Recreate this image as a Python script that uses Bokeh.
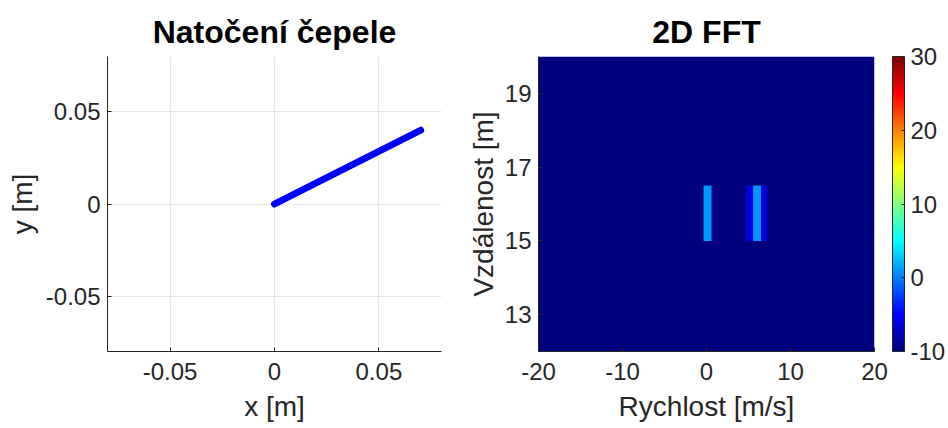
from bokeh.plotting import figure
from bokeh.layouts import row
from bokeh.models import (ColumnDataSource, LinearColorMapper, ColorBar, FixedTicker, Range1d)
from bokeh.embed import file_html
from bokeh.resources import INLINE

# ---------------- data ----------------
blade_x = [0.0, 0.07]
blade_y = [0.0, 0.04]
left_ticks = [-0.05, 0, 0.05]
left_tick_labels = ["-0.05", "0", "0.05"]
left_lim = [-0.08, 0.08]

vel_lim = [-20, 20]
dist_lim = [12, 20]
floor_db = -10
peak_vel_left = [-0.35, 4.7, 5.55, 6.5]
peak_vel_right = [0.6, 5.55, 6.5, 7.2]
peak_dist_lo = [15.0, 15.0, 15.0, 15.0]
peak_dist_hi = [16.5, 16.5, 16.5, 16.5]
peak_db = [1.0, -6.0, 1.0, -6.0]
vel_ticks = [-20, -10, 0, 10, 20]
vel_tick_labels = ["-20", "-10", "0", "10", "20"]
dist_ticks = [13, 15, 17, 19]
cbar_lim = [-10, 30]
cbar_ticks = [-10, 0, 10, 20, 30]
cbar_tick_labels = ["-10", "0", "10", "20", "30"]

FONT = "Liberation Sans"
TXT = "#262626"


def jet(n=256):
    cols = []
    for i in range(n):
        t = i / (n - 1)
        r = min(max(min(4 * t - 1.5, -4 * t + 4.5), 0), 1)
        g = min(max(min(4 * t - 0.5, -4 * t + 3.5), 0), 1)
        b = min(max(min(4 * t + 0.5, -4 * t + 2.5), 0), 1)
        cols.append("#%02x%02x%02x" % (int(r * 255), int(g * 255), int(b * 255)))
    return cols


def style(p, ylabel_standoff):
    for ax in (p.xaxis, p.yaxis):
        ax.major_label_text_font = FONT
        ax.major_label_text_font_size = "24px"
        ax.major_label_text_color = TXT
        ax.axis_label_text_font = FONT
        ax.axis_label_text_font_size = "28px"
        ax.axis_label_text_font_style = "normal"
        ax.axis_label_text_color = TXT
        ax.axis_line_color = TXT
        ax.major_tick_line_color = TXT
        ax.major_tick_in = 4
        ax.major_tick_out = 0
        ax.minor_tick_line_color = None
    p.xaxis.major_label_standoff = 11
    p.yaxis.major_label_standoff = 7
    p.xaxis.axis_label_standoff = 8
    p.yaxis.axis_label_standoff = ylabel_standoff
    p.title.text_font = FONT
    p.title.text_font_size = "32px"
    p.title.text_font_style = "bold"
    p.title.align = "center"
    p.title.text_color = "black"
    p.title.standoff = 13
    p.outline_line_color = None


# ---------------- left plot ----------------
p1 = figure(width=460, height=428, output_backend="svg", toolbar_location=None,
            title="Natočení čepele",
            x_range=Range1d(*left_lim), y_range=Range1d(*left_lim),
            min_border_left=107, min_border_right=19, min_border_top=56, min_border_bottom=77)
p1.line(blade_x, blade_y, line_width=7, line_color="#0000ff", line_cap="round")
p1.xaxis.ticker = FixedTicker(ticks=left_ticks)
p1.yaxis.ticker = FixedTicker(ticks=left_ticks)
p1.xaxis.major_label_overrides = dict(zip(left_ticks, left_tick_labels))
p1.yaxis.major_label_overrides = dict(zip(left_ticks, left_tick_labels))
p1.xaxis.axis_label = "x [m]"
p1.yaxis.axis_label = "y [m]"
p1.xgrid.grid_line_color = "#e6e6e6"
p1.ygrid.grid_line_color = "#e6e6e6"
style(p1, 5)

# ---------------- right plot ----------------
mapper = LinearColorMapper(palette=jet(256), low=cbar_lim[0], high=cbar_lim[1])
p2 = figure(width=488, height=428, output_backend="svg", toolbar_location=None,
            title="2D FFT",
            x_range=Range1d(*vel_lim), y_range=Range1d(*dist_lim),
            min_border_left=78, min_border_right=72, min_border_top=56, min_border_bottom=77)
bg = ColumnDataSource(dict(left=[vel_lim[0]], right=[vel_lim[1]], bottom=[dist_lim[0]],
                           top=[dist_lim[1]], db=[floor_db]))
p2.quad(left="left", right="right", bottom="bottom", top="top", source=bg,
        fill_color={"field": "db", "transform": mapper}, line_color=None)
pk = ColumnDataSource(dict(left=peak_vel_left, right=peak_vel_right, bottom=peak_dist_lo,
                           top=peak_dist_hi, db=peak_db))
p2.quad(left="left", right="right", bottom="bottom", top="top", source=pk,
        fill_color={"field": "db", "transform": mapper}, line_color=None)
p2.xaxis.ticker = FixedTicker(ticks=vel_ticks)
p2.yaxis.ticker = FixedTicker(ticks=dist_ticks)
p2.xaxis.major_label_overrides = dict(zip(vel_ticks, vel_tick_labels))
p2.xaxis.axis_label = "Rychlost [m/s]"
p2.yaxis.axis_label = "Vzdálenost [m]"
p2.xgrid.grid_line_color = None
p2.ygrid.grid_line_color = None
style(p2, 3)

cb = ColorBar(color_mapper=mapper, ticker=FixedTicker(ticks=cbar_ticks), width=12,
              padding=0, margin=0, location=(18, 0),
              major_label_overrides=dict(zip(cbar_ticks, cbar_tick_labels)),
              major_label_text_font=FONT, major_label_text_font_size="24px",
              major_label_text_color=TXT, major_tick_line_color=TXT,
              major_tick_in=3, major_tick_out=0, bar_line_color=TXT,
              border_line_color=None, background_fill_color=None, label_standoff=6)
p2.add_layout(cb, "right")

layout = row(p1, p2)
open("out.html", "w").write(file_html(layout, INLINE))
